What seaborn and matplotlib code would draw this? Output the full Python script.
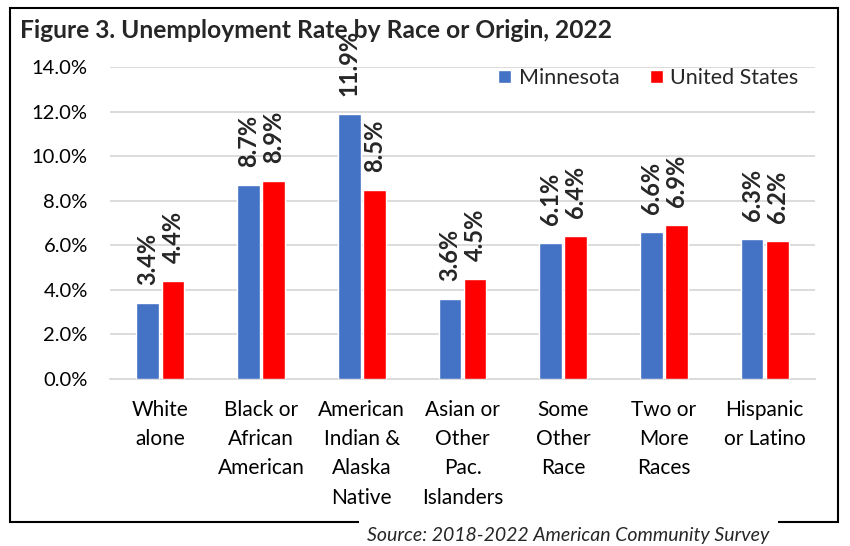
import pandas as pd
import matplotlib.pyplot as plt
import seaborn as sns
from matplotlib.patches import Rectangle
from matplotlib.ticker import FuncFormatter

# datos
categorias = ['White\nalone', 'Black or\nAfrican\nAmerican', 'American\nIndian &\nAlaska\nNative',
              'Asian or\nOther\nPac.\nIslanders', 'Some\nOther\nRace', 'Two or\nMore\nRaces',
              'Hispanic\nor Latino']
minnesota = [3.4, 8.7, 11.9, 3.6, 6.1, 6.6, 6.3]
estados_unidos = [4.4, 8.9, 8.5, 4.5, 6.4, 6.9, 6.2]
series = ['Minnesota', 'United States']

df = pd.DataFrame({
    'grupo': categorias * 2,
    'tasa': minnesota + estados_unidos,
    'zona': [series[0]] * len(categorias) + [series[1]] * len(categorias),
})

sns.set_style('white')
plt.rcParams['font.family'] = ['Lato', 'DejaVu Sans']

fig = plt.figure(figsize=(8.5, 5.46), dpi=100)
ax = fig.add_axes([110 / 850, 1 - 379 / 546, 705 / 850, 312 / 546])

sns.barplot(data=df, x='grupo', y='tasa', hue='zona', palette=['#4472C4', '#FF0000'],
            saturation=1, width=0.5, gap=0.1, ax=ax, zorder=3)

for cont in ax.containers:
    ax.bar_label(cont, fmt='%.1f%%', rotation=90, padding=13, fontsize=17, fontweight='bold')

ax.set_ylim(0, 14)
ax.set_yticks(range(0, 15, 2))
ax.yaxis.set_major_formatter(FuncFormatter(lambda v, p: f'{v:.1f}%'))
ax.set_xticks(range(len(categorias)), labels=categorias, linespacing=1.58)
ax.grid(axis='y', color='#D9D9D9', linewidth=1.3, zorder=0)
ax.set_xlabel('')
ax.set_ylabel('')
for s in ['top', 'right', 'left']:
    ax.spines[s].set_visible(False)
ax.spines['bottom'].set_color('#D9D9D9')
ax.spines['bottom'].set_linewidth(1.3)
ax.tick_params(axis='both', length=0, colors='black')
ax.tick_params(axis='y', pad=16, labelsize=14.5)
ax.tick_params(axis='x', pad=15, labelsize=15)

leg = ax.legend(loc='center right', bbox_to_anchor=(0.962, 1 - 78 / 546), bbox_transform=fig.transFigure,
                ncol=2, frameon=False, fontsize=15.5, handlelength=0.6, handleheight=0.6,
                handletextpad=0.35, columnspacing=1.4)

fig.text(0.024, 1 - 31 / 546, 'Figure 3. Unemployment Rate by Race or Origin, 2022',
         fontsize=17.7, fontweight='bold', va='center', zorder=5)

# marco
fig.patches.append(Rectangle((10 / 850, 1 - 522 / 546), 828 / 850, 514 / 546,
                             transform=fig.transFigure, fill=False, edgecolor='black',
                             linewidth=1.5, zorder=0))
fig.text(367 / 850, 1 - 535 / 546, 'Source: 2018-2022 American Community Survey', fontsize=14,
         fontstyle='italic', va='center',
         bbox=dict(facecolor='white', edgecolor='none', pad=6))

fig.savefig('out.png', dpi=100)
